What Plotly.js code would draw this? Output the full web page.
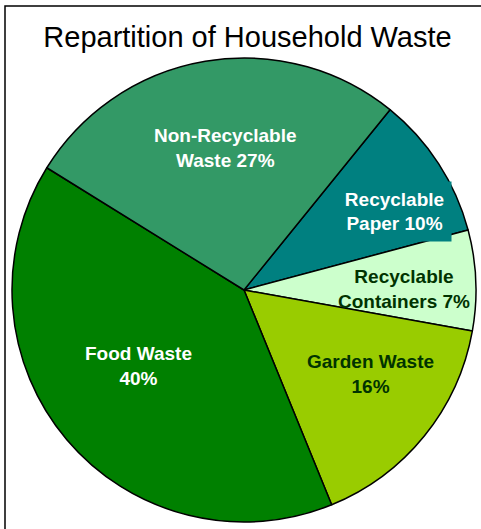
<!DOCTYPE html>
<html><head><meta charset="utf-8">
<script src="https://cdn.plot.ly/plotly-3.0.1.min.js"></script>
<style>html,body{margin:0;padding:0;background:#fff}#chart{width:481px;height:529px}</style>
</head><body><div id="chart"></div>
<script>
const categories = ['Recyclable Paper', 'Recyclable Containers', 'Garden Waste', 'Food Waste', 'Non-Recyclable Waste'];
const labelText = ['Recyclable<br>Paper 10%', 'Recyclable<br>Containers 7%', 'Garden Waste<br>16%', 'Food Waste<br>40%', 'Non-Recyclable<br>Waste 27%'];
const values = [10, 7, 16, 40, 27];
const colors = ['#008080', '#CCFFCC', '#99CC00', '#008000', '#339966'];
const textColors = ['#ffffff', '#003300', '#003300', '#ffffff', '#ffffff'];

const W = 481, H = 529;
// label centres in pixels (layout only)
const labelPos = [[394, 211], [404, 289], [370, 374], [138, 366], [225, 148]];
const labelBg = ['#008080', null, null, null, null];

const trace = {
  type: 'pie',
  labels: categories,
  values: values,
  textinfo: 'none',
  sort: false,
  direction: 'clockwise',
  rotation: 39,
  marker: {colors: colors, line: {color: '#000000', width: 1.5}},
  hoverinfo: 'none',
  showlegend: false,
  domain: {x: [10 / W, 478 / W], y: [(H - 522) / H, (H - 58) / H]}
};
const annotations = labelText.map((t, i) => {
  const a = {
    text: t, xref: 'paper', yref: 'paper',
    x: labelPos[i][0] / W, y: 1 - labelPos[i][1] / H,
    xanchor: 'center', yanchor: 'middle', showarrow: false,
    align: 'center',
    bgcolor: labelBg[i] || 'rgba(0,0,0,0)', borderpad: 5,
    font: {family: 'Liberation Sans, Arial, sans-serif', size: 19, color: textColors[i], weight: 'bold'}
  };
  if (labelBg[i]) { a.width = 103; a.height = 49; }
  return a;
});
const layout = {
  width: W, height: H,
  margin: {l: 0, r: 0, t: 0, b: 0},
  paper_bgcolor: '#ffffff',
  showlegend: false,
  title: {text: 'Repartition of Household Waste', x: 247.5 / W, xanchor: 'center', y: 1 - 37 / H, yanchor: 'middle',
    font: {family: 'Liberation Sans, Arial, sans-serif', size: 29, color: '#000000'}},
  annotations: annotations,
  shapes: [{type: 'rect', xref: 'paper', yref: 'paper', x0: 5 / W, x1: 1.2, y0: -0.2, y1: 1 - 6 / H,
    line: {color: '#000000', width: 1.5}, fillcolor: 'rgba(0,0,0,0)', layer: 'below'}]
};
Plotly.newPlot('chart', [trace], layout, {staticPlot: true, displayModeBar: false});
</script></body></html>
